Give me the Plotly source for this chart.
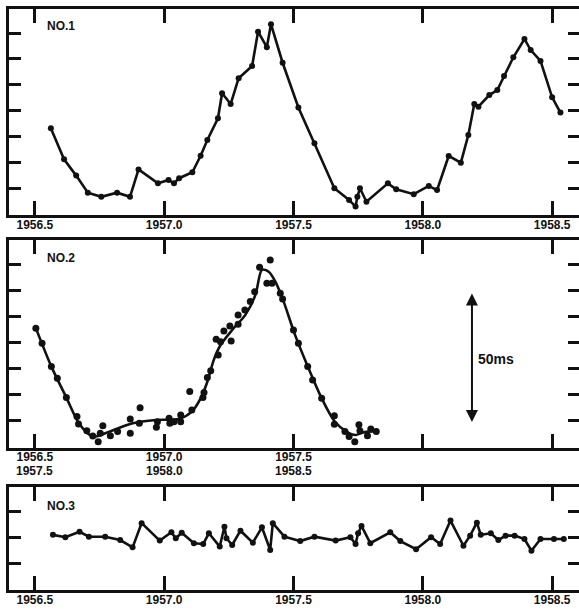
import plotly.graph_objects as go

# ---------------- data (years, ms offset) ----------------
p1_year = [1956.562, 1956.613, 1956.660, 1956.705, 1956.757, 1956.818, 1956.868, 1956.901,
           1956.976, 1957.017, 1957.038, 1957.058, 1957.109, 1957.141, 1957.167, 1957.208,
           1957.224, 1957.257, 1957.288, 1957.340, 1957.363, 1957.397, 1957.413, 1957.458,
           1957.519, 1957.581, 1957.658, 1957.715, 1957.740, 1957.747, 1957.757, 1957.782,
           1957.865, 1957.897, 1957.965, 1958.023, 1958.055, 1958.100, 1958.147, 1958.176,
           1958.199, 1958.215, 1958.257, 1958.288, 1958.314, 1958.350, 1958.393, 1958.417,
           1958.455, 1958.500, 1958.532]
p1_ms = [33.1, 21.1, 14.8, 8.2, 6.6, 8.2, 6.6, 17.2,
         11.8, 13.1, 11.8, 13.8, 16.1, 22.5, 28.6, 37.0,
         46.7, 42.5, 52.5, 57.2, 70.5, 64.5, 73.4, 58.5,
         41.2, 27.3, 9.9, 5.4, 2.8, 6.6, 9.9, 4.7,
         11.8, 9.5, 7.6, 10.8, 9.2, 22.4, 19.8, 30.5,
         42.5, 41.5, 46.0, 47.9, 53.4, 60.6, 67.7, 63.4,
         59.2, 45.1, 39.2]

p2_year = [1956.504, 1956.528, 1956.564, 1956.587, 1956.622, 1956.663, 1956.669, 1956.701,
           1956.724, 1956.745, 1956.753, 1956.763, 1956.792, 1956.820, 1956.869, 1956.869,
           1956.907, 1956.904, 1956.970, 1956.974, 1957.019, 1957.022, 1957.038, 1957.064,
           1957.064, 1957.099, 1957.107, 1957.150, 1957.154, 1957.167, 1957.180, 1957.201,
           1957.209, 1957.218, 1957.231, 1957.254, 1957.259, 1957.286, 1957.286, 1957.312,
           1957.333, 1957.350, 1957.369, 1957.397, 1957.410, 1957.417, 1957.449, 1957.458,
           1957.500, 1957.519, 1957.555, 1957.574, 1957.609, 1957.658, 1957.658, 1957.699,
           1957.715, 1957.737, 1957.753, 1957.757, 1957.786, 1957.799, 1957.820]
p2_ms = [45.7, 39.9, 30.9, 26.4, 19.0, 11.7, 8.8, 6.2,
         4.2, 2.0, 5.3, 8.2, 4.3, 5.9, 5.3, 10.8,
         15.1, 9.1, 7.6, 9.7, 11.0, 9.1, 9.7, 12.3,
         9.7, 21.3, 14.2, 19.0, 20.9, 26.7, 29.3, 41.4,
         35.4, 40.5, 44.6, 46.5, 40.8, 47.2, 50.8, 52.7,
         55.9, 59.7, 69.1, 63.0, 71.9, 63.0, 59.1, 56.9,
         45.0, 39.9, 30.9, 25.8, 18.7, 12.0, 8.7, 5.9,
         4.0, 2.0, 8.5, 6.2, 4.3, 6.9, 5.9]

p2_fit_year = [1956.504, 1956.564, 1956.622, 1956.673, 1956.724, 1956.788, 1956.878, 1956.968,
               1957.058, 1957.107, 1957.141, 1957.167, 1957.192, 1957.218, 1957.263, 1957.314,
               1957.353, 1957.378, 1957.404, 1957.430, 1957.462, 1957.506, 1957.558, 1957.609,
               1957.658, 1957.705, 1957.740, 1957.769, 1957.820]
p2_fit_ms = [45.7, 30.9, 19.0, 8.7, 4.0, 5.9, 9.1, 10.4,
             10.8, 13.6, 18.7, 25.1, 33.5, 39.2, 45.0, 50.8,
             58.5, 68.1, 67.4, 63.6, 55.9, 43.1, 30.3, 18.7,
             10.0, 5.9, 4.6, 5.6, 6.2]

p3_year = [1956.570, 1956.618, 1956.673, 1956.709, 1956.772, 1956.830, 1956.878, 1956.913,
           1956.983, 1957.028, 1957.045, 1957.068, 1957.115, 1957.151, 1957.173, 1957.215,
           1957.233, 1957.241, 1957.263, 1957.295, 1957.343, 1957.378, 1957.410, 1957.420,
           1957.465, 1957.526, 1957.581, 1957.663, 1957.720, 1957.740, 1957.750, 1957.763,
           1957.797, 1957.874, 1957.913, 1957.974, 1958.032, 1958.067, 1958.107, 1958.157,
           1958.183, 1958.209, 1958.224, 1958.263, 1958.292, 1958.320, 1958.355, 1958.393,
           1958.420, 1958.455, 1958.507, 1958.545]
p3_ms = [21.2, 20.3, 22.4, 20.5, 20.5, 19.2, 16.4, 25.7,
         19.0, 22.2, 19.9, 22.0, 18.0, 17.7, 21.8, 16.7,
         24.3, 19.9, 17.3, 22.8, 18.2, 24.1, 15.4, 25.7,
         20.5, 18.8, 20.5, 19.0, 20.3, 17.7, 21.8, 24.6,
         18.0, 22.2, 18.8, 15.7, 20.3, 17.7, 26.7, 17.0,
         20.9, 25.9, 21.2, 21.8, 19.2, 20.9, 20.9, 19.6,
         15.1, 19.6, 19.6, 19.6]

x_ticks = [1956.5, 1957.0, 1957.5, 1958.0, 1958.5]
x_labels_1 = ["1956.5", "1957.0", "1957.5", "1958.0", "1958.5"]
x_labels_2_top = ["1956.5", "1957.0", "1957.5", "", ""]
x_labels_2_bottom = ["1957.5", "1958.0", "1958.5"]
y_ticks_big = [10, 20, 30, 40, 50, 60, 70]
y_ticks_small = [10, 20, 30]
panel_labels = ["NO.1", "NO.2", "NO.3"]
scale_label = "50ms"
scale_arrow = (1958.19, 59.0, 9.0)  # x, top, bottom (ms)

# ---------------- figure ----------------
INK = "#111111"
FONT = "Liberation Sans, Arial, sans-serif"
line_style = dict(color=INK, width=2.6)
mk = dict(color=INK, size=6)

W, H = 583, 609
fig = go.Figure()
fig.add_trace(go.Scatter(x=p1_year, y=p1_ms, mode="lines+markers", line=line_style,
                         marker=mk, xaxis="x", yaxis="y", showlegend=False))
fig.add_trace(go.Scatter(x=p2_fit_year, y=p2_fit_ms, mode="lines",
                         line=dict(color=INK, width=2.6, shape="spline", smoothing=0.8),
                         xaxis="x2", yaxis="y2", showlegend=False))
fig.add_trace(go.Scatter(x=p2_year, y=p2_ms, mode="markers", marker=dict(color=INK, size=7),
                         xaxis="x2", yaxis="y2", showlegend=False))
fig.add_trace(go.Scatter(x=p3_year, y=p3_ms, mode="lines+markers", line=line_style,
                         marker=mk, xaxis="x3", yaxis="y3", showlegend=False))

xr = [1956.4, 1956.4 + (W - 9) / 260]
xdom = [9 / W, 1.0]
tfont = dict(family=FONT, size=12, color=INK, weight="bold")


def xax(anchor, labels, standoff):
    return dict(domain=xdom, range=xr, anchor=anchor, tickvals=x_ticks, ticktext=labels,
                ticks="inside", ticklen=14, tickwidth=2.5, tickcolor=INK,
                showline=True, linewidth=2.5, linecolor=INK, mirror="ticks",
                showgrid=False, zeroline=False, ticklabelstandoff=standoff,
                tickfont=tfont)


def yax(anchor, dom, rng, tv):
    return dict(domain=dom, range=rng, anchor=anchor, tickvals=tv, showticklabels=False,
                ticks="inside", ticklen=12, tickwidth=2.5, tickcolor=INK,
                showline=True, linewidth=2.5, linecolor=INK, mirror="ticks",
                showgrid=False, zeroline=False)


fig.update_layout(
    width=W, height=H,
    margin=dict(l=0, r=0, t=0, b=0),
    paper_bgcolor="white", plot_bgcolor="white",
    xaxis=xax("y", x_labels_1, -3),
    xaxis2=xax("y2", x_labels_2_top, -4),
    xaxis3=xax("y3", x_labels_1, -3),
    yaxis=yax("x", [1 - 215 / H, 1 - 9 / H], [-0.45, 79.3], y_ticks_big),
    yaxis2=yax("x2", [1 - 448 / H, 1 - 240 / H], [-0.4, 79.6], y_ticks_big),
    yaxis3=yax("x3", [1 - 590 / H, 1 - 487 / H], [0, 39.6], y_ticks_small),
)

# second row of year labels for panel 2
for xv, lab in zip(x_ticks, x_labels_2_bottom):
    fig.add_annotation(text=lab, x=xv, xref="x2", y=1 - 471 / H, yref="paper",
                       xanchor="center", yanchor="middle", showarrow=False, font=tfont,
                       borderpad=0)

label_pos = [("x domain", "y domain", 0.916), ("x2 domain", "y2 domain", 0.913),
             ("x3 domain", "y3 domain", 0.816)]
for txt, (xr_, yr_, yy) in zip(panel_labels, label_pos):
    fig.add_annotation(text=txt, xref=xr_, yref=yr_, x=36 / (W - 9), y=yy, xanchor="left",
                       yanchor="middle", showarrow=False,
                       font=dict(family=FONT, size=12, color=INK, weight="bold"))

ax_x, ax_top, ax_bot = scale_arrow
fig.add_annotation(x=ax_x, y=ax_top, ax=ax_x, ay=ax_bot, xref="x2", yref="y2",
                   axref="x2", ayref="y2", text="", showarrow=True,
                   arrowhead=2, arrowside="end+start", arrowsize=1.2, arrowwidth=2,
                   arrowcolor=INK, standoff=0, startstandoff=0)
fig.add_annotation(text=scale_label, x=ax_x, y=34, xref="x2", yref="y2",
                   xshift=4, xanchor="left", yanchor="middle", showarrow=False,
                   font=dict(family=FONT, size=14, color=INK, weight="bold"))

fig.write_html("out.html", config={"displayModeBar": False},
               post_script="document.body.style.margin='0';document.body.style.overflow='hidden';")
